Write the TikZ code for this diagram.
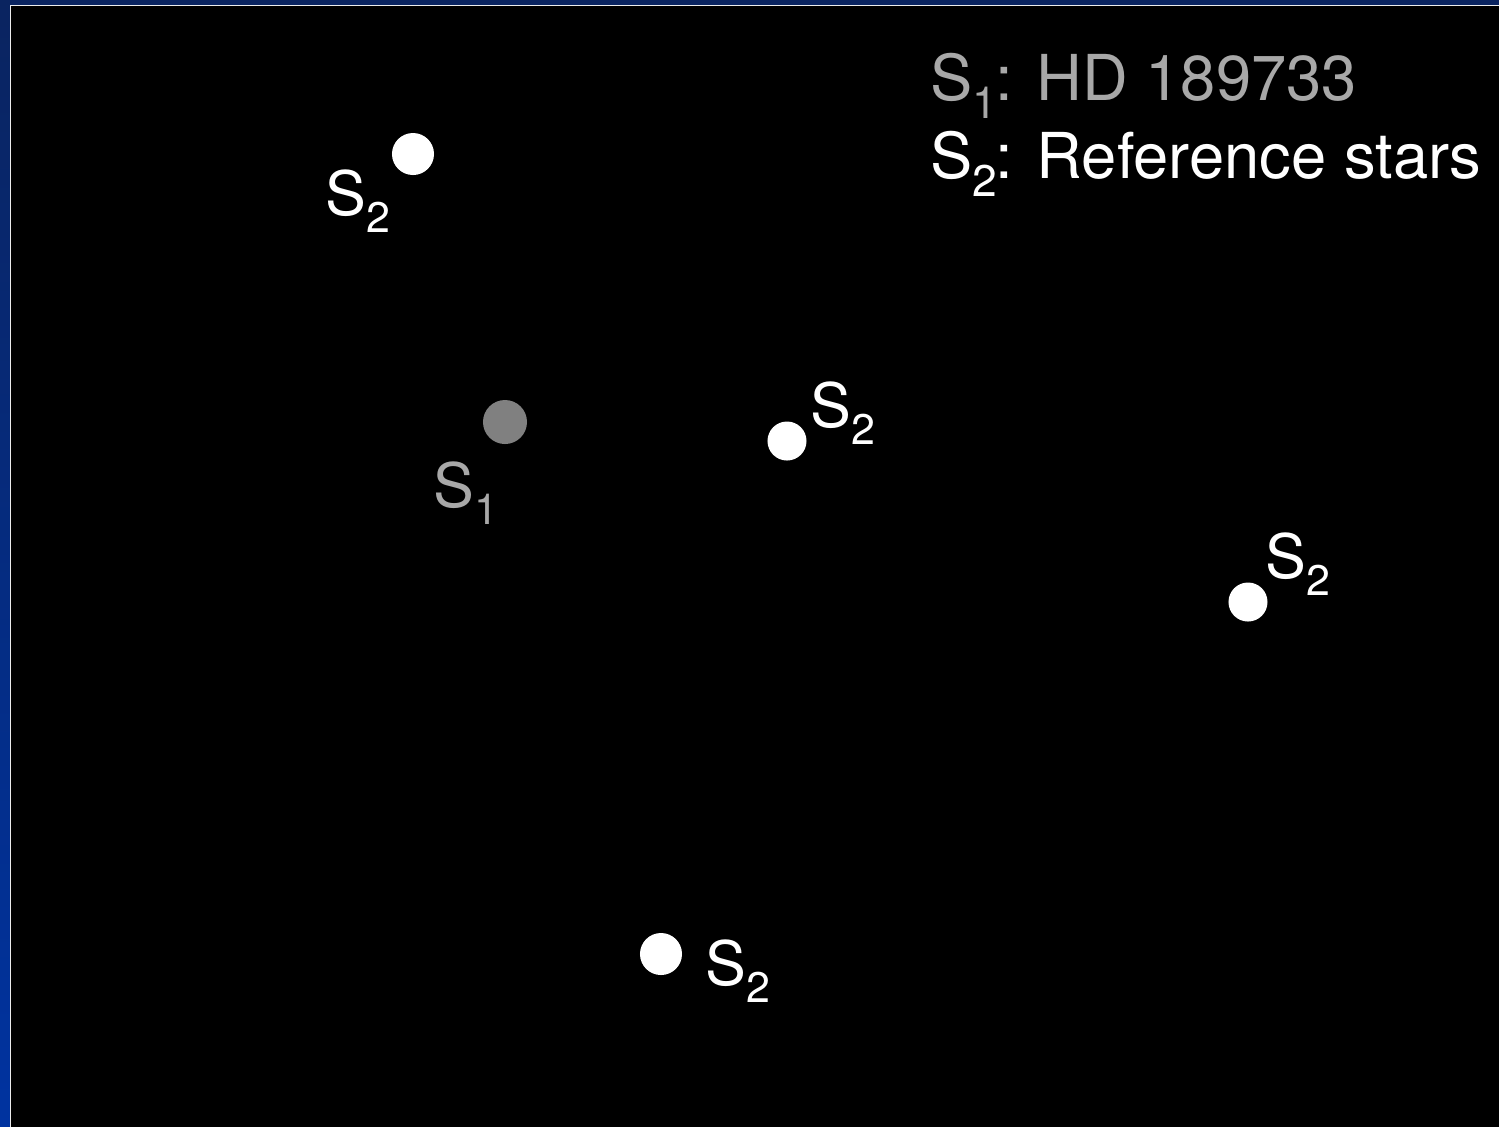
\documentclass[tikz,border=0pt]{standalone}
\usepackage{fontspec}
\usepackage{graphicx}
\setmainfont{TeX Gyre Heros}
\definecolor{navytop}{RGB}{10,36,96}
\definecolor{navybot}{RGB}{0,51,160}
\definecolor{dimtext}{RGB}{168,168,168}
\definecolor{dimdot}{RGB}{128,128,128}
\newcommand\lowsub[1]{\raisebox{-0.29em}{\scalebox{0.7}{#1}}}
\tikzset{
  stardot/.style={circle, fill=white, inner sep=0pt, draw=none},
  dimstardot/.style={circle, fill=dimdot, inner sep=0pt, draw=none},
  lbl/.style={anchor=base west, inner sep=0pt, text=white, font=\fontsize{17.4pt}{20pt}\selectfont},
  keytext/.style={anchor=base west, inner sep=0pt, font=\fontsize{18pt}{21pt}\selectfont}
}
\begin{document}
\begin{tikzpicture}[x=0.01cm,y=-0.01cm]
\useasboundingbox (0,0) rectangle (1499,1126);
\shade[top color=navytop, bottom color=navybot] (0,0) rectangle (1499,1126);
\fill[white!85!gray] (9.5,4.5) rectangle (1510,1140);
\fill[black] (11,6) rectangle (1510,1140);
% stars
\node[stardot, minimum size=0.42cm] (s2a) at (413,154) {};
\node[dimstardot, minimum size=0.44cm] (s1) at (505,422) {};
\node[stardot, minimum size=0.39cm] (s2b) at (787,441) {};
\node[stardot, minimum size=0.39cm] (s2c) at (1248,602) {};
\node[stardot, minimum size=0.42cm] (s2d) at (661,954) {};
% labels
\node[lbl] (l2a) at (325,215) {S\lowsub{2}};
\node[lbl, text=dimtext] (l1) at (433,507) {S\lowsub{1}};
\node[lbl] (l2b) at (810,427) {S\lowsub{2}};
\node[lbl] (l2c) at (1265,578) {S\lowsub{2}};
\node[lbl] (l2d) at (705,985) {S\lowsub{2}};
% key
\node[keytext, text=dimtext] (k1) at (930,100) {S\lowsub{1}\kern-0.03em: HD 189733};
\node[keytext, text=white] (k2) at (930,178) {S\lowsub{2}\kern-0.03em: Reference stars};
\end{tikzpicture}
\end{document}
